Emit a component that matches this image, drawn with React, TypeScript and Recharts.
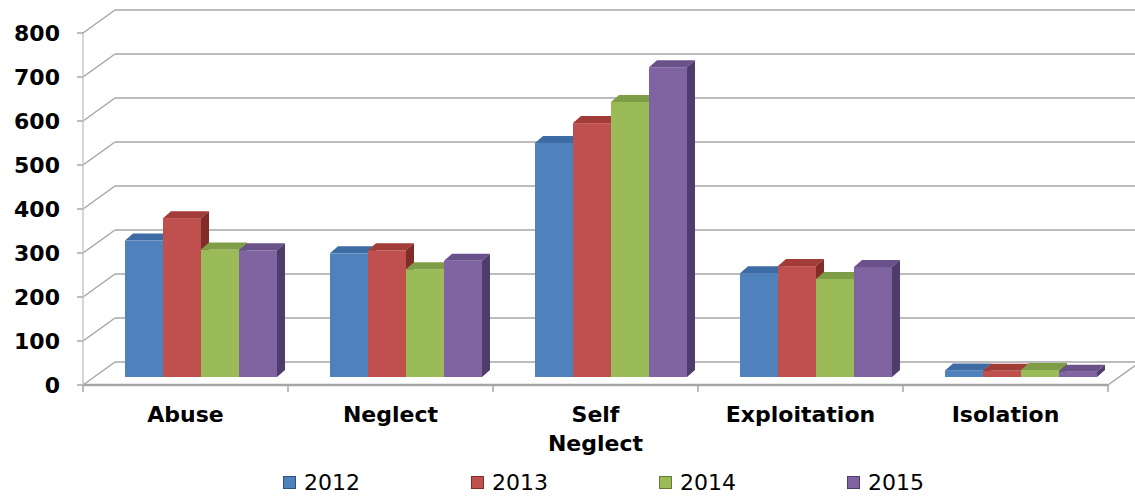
import { BarChart, Bar, XAxis, YAxis, CartesianGrid } from "recharts";

// Cases by type, per year
const CATEGORIES = ["Abuse", "Neglect", "Self Neglect", "Exploitation", "Isolation"];
const CASES_2012 = [310, 281, 532, 236, 15];
const CASES_2013 = [361, 288, 577, 252, 14];
const CASES_2014 = [290, 245, 625, 223, 16];
const CASES_2015 = [288, 264, 704, 250, 12];
const Y_TICKS = [0, 100, 200, 300, 400, 500, 600, 700, 800];

const SERIES = [
  { key: "y2012", name: "2012", values: CASES_2012, front: "#4F81BD", top: "#3D6CA5", side: "#2E5380" },
  { key: "y2013", name: "2013", values: CASES_2013, front: "#C0504D", top: "#A23C39", side: "#822C2A" },
  { key: "y2014", name: "2014", values: CASES_2014, front: "#9BBB59", top: "#7F9D46", side: "#637D34" },
  { key: "y2015", name: "2015", values: CASES_2015, front: "#8064A2", top: "#69518A", side: "#4E3C6B" },
];

const data = CATEGORIES.map((cat, i) => {
  const row: Record<string, any> = { cat };
  SERIES.forEach((s) => (row[s.key] = s.values[i]));
  return row;
});

const W = 1135;
const H = 498;
const PLOT_TOP = 25;
const PLOT_BOTTOM = 377;
const PLOT_LEFT = 98;
const Y_AXIS_W = 60;
const STEP = (PLOT_BOTTOM - PLOT_TOP) / 8;
// fake depth: front edge sits down-left of the bar plane, back wall up-right
const FRONT_DX = -15;
const FRONT_DY = 8;
const BACK_DX = 17;
const BACK_DY = -15;
const BAR_DX = 8;
const BAR_DY = 7;
const GRID = "#A6A6A6";
const FONT = "'DejaVu Sans', Verdana, sans-serif";

// back wall lines, left wall diagonals and the floor
const gridLine = (props: any) => {
  const y = props.y1;
  const fx = PLOT_LEFT + FRONT_DX;
  const fy = y + FRONT_DY;
  const bx = PLOT_LEFT + BACK_DX;
  const by = y + BACK_DY;
  const isFloor = Math.abs(y - PLOT_BOTTOM) < 1;
  const isTop = Math.abs(y - PLOT_TOP) < 1;
  const floorRight = props.x2 + FRONT_DX;
  return (
    <g key={props.key}>
      <line x1={fx - 6} y1={fy} x2={fx} y2={fy} stroke={GRID} strokeWidth={1.5} />
      <line x1={fx} y1={fy} x2={bx} y2={by} stroke={GRID} strokeWidth={1.5} />
      <line x1={bx} y1={by} x2={W + 10} y2={by} stroke={GRID} strokeWidth={1.5} />
      {!isTop && <line x1={fx} y1={fy} x2={fx} y2={fy - STEP} stroke="#C8C8C8" strokeWidth={1.5} />}
      {isFloor && (
        <>
          <line x1={fx} y1={fy} x2={floorRight} y2={fy} stroke={GRID} strokeWidth={2.5} />
          <line x1={floorRight} y1={fy} x2={floorRight + BACK_DX - FRONT_DX} y2={by} stroke={GRID} strokeWidth={1.5} />
        </>
      )}
    </g>
  );
};

const YTick = ({ y, payload }: any) => (
  <text x={60} y={y + FRONT_DY} dy={8} textAnchor="end" fontFamily={FONT} fontWeight="bold" fontSize={22} fill="#000">
    {payload.value}
  </text>
);

const XTick = ({ x, payload, index }: any) => {
  const band = 205;
  const cx = x + FRONT_DX;
  const fy = PLOT_BOTTOM + FRONT_DY;
  const lines = String(payload.value).split(" ");
  return (
    <g>
      <line x1={cx - band / 2} y1={fy} x2={cx - band / 2} y2={fy + 7} stroke={GRID} strokeWidth={1.5} />
      {index === CATEGORIES.length - 1 && (
        <line x1={cx + band / 2} y1={fy} x2={cx + band / 2} y2={fy + 7} stroke={GRID} strokeWidth={1.5} />
      )}
      {lines.map((t, i) => (
        <text key={i} x={cx} y={422 + i * 29} textAnchor="middle" fontFamily={FONT} fontWeight="bold" fontSize={22} fill="#000">
          {t}
        </text>
      ))}
    </g>
  );
};

const makeShape = (s: (typeof SERIES)[number]) => (props: any) => {
  const { x, y, width, height } = props;
  if (width == null || height == null) return <g />;
  const r = x + width;
  return (
    <g>
      <rect x={x} y={y} width={width} height={height} fill={s.front} />
      <polygon
        points={`${x},${y} ${x + BAR_DX},${y - BAR_DY} ${r + BAR_DX},${y - BAR_DY} ${r},${y}`}
        fill={s.top}
      />
      <polygon
        points={`${r},${y} ${r + BAR_DX},${y - BAR_DY} ${r + BAR_DX},${y + height - BAR_DY} ${r},${y + height}`}
        fill={s.side}
      />
    </g>
  );
};

export default function App() {
  return (
    <div style={{ position: "absolute", left: 0, top: 0, width: W, height: H, background: "#fff" }}>
      <BarChart
        width={W}
        height={H}
        data={data}
        margin={{ top: PLOT_TOP, right: W - 1123, left: PLOT_LEFT - Y_AXIS_W, bottom: 81 }}
        barCategoryGap={27}
        barGap={0}
      >
        <CartesianGrid vertical={false} horizontal={gridLine} />
        <XAxis dataKey="cat" height={40} axisLine={false} tickLine={false} tick={<XTick />} interval={0} />
        <YAxis
          width={Y_AXIS_W}
          domain={[0, 800]}
          ticks={Y_TICKS}
          interval={0}
          axisLine={false}
          tickLine={false}
          tick={<YTick />}
        />
        {SERIES.map((s) => (
          <Bar key={s.key} dataKey={s.key} name={s.name} fill={s.front} shape={makeShape(s)} isAnimationActive={false} />
        ))}
      </BarChart>
      <div style={{ position: "absolute", top: 470, left: 283, display: "flex", fontFamily: FONT, fontSize: 22, color: "#000" }}>
        {SERIES.map((s) => (
          <div key={s.key} style={{ width: 188, display: "flex", alignItems: "center" }}>
            <span
              style={{
                display: "inline-block",
                width: 11,
                height: 11,
                marginRight: 8,
                background: s.front,
                border: `1px solid ${s.side}`,
              }}
            />
            <span>{s.name}</span>
          </div>
        ))}
      </div>
    </div>
  );
}
